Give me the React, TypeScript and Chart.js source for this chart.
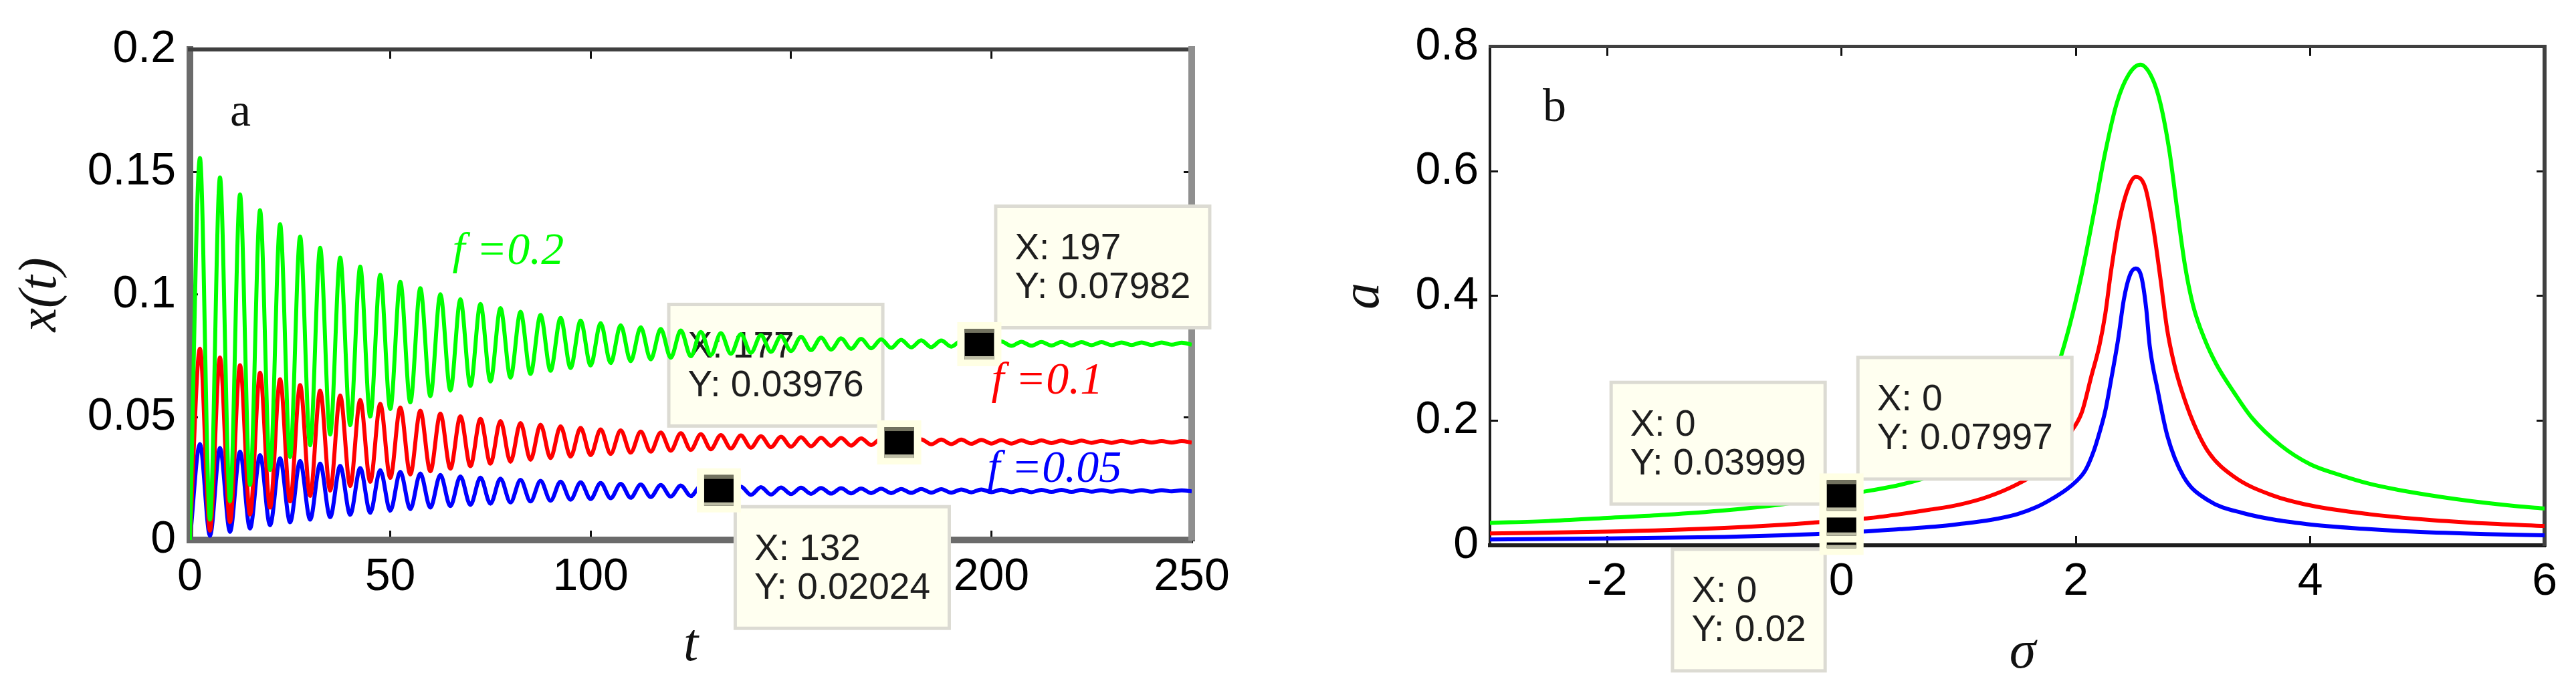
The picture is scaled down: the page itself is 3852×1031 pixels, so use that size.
import { useEffect, useRef } from "react";
import { Chart, registerables } from "chart.js";

Chart.register(...registerables);

// ---------------- Panel a: x(t) ----------------
const T_A = [0,2.5,5,7.5,10,12.5,15,17.5,20,22.5,25,27.5,30,32.5,35,37.5,40,42.5,45,47.5,50,52.5,55,57.5,60,62.5,65,67.5,70,72.5,75,77.5,80,82.5,85,87.5,90,92.5,95,97.5,100,102.5,105,107.5,110,112.5,115,117.5,120,122.5,125,127.5,130,132.5,135,137.5,140,142.5,145,147.5,150,152.5,155,157.5,160,162.5,165,167.5,170,172.5,175,177.5,180,182.5,185,187.5,190,192.5,195,197.5,200,202.5,205,207.5,210,212.5,215,217.5,220,222.5,225,227.5,230,232.5,235,237.5,240,242.5,245,247.5,250];

const X_F02 = [
  0.0000,0.1557,0.0083,0.1478,0.0158,0.1408,0.0225,0.1344,0.0285,0.1288,
  0.0338,0.1237,0.0386,0.1191,0.0430,0.1151,0.0468,0.1114,0.0503,0.1081,
  0.0534,0.1052,0.0561,0.1026,0.0586,0.1002,0.0609,0.0981,0.0628,0.0962,
  0.0646,0.0945,0.0662,0.0930,0.0677,0.0917,0.0690,0.0905,0.0701,0.0894,
  0.0711,0.0884,0.0721,0.0875,0.0729,0.0867,0.0736,0.0860,0.0743,0.0854,
  0.0749,0.0848,0.0754,0.0843,0.0759,0.0839,0.0763,0.0835,0.0767,0.0831,
  0.0770,0.0828,0.0774,0.0825,0.0776,0.0822,0.0779,0.0820,0.0781,0.0818,
  0.0783,0.0816,0.0785,0.0814,0.0786,0.0813,0.0788,0.0812,0.0789,0.0810,
  0.0790,0.0809,0.0791,0.0808,0.0792,0.0807,0.0793,0.0807,0.0793,0.0806,
  0.0794,0.0806,0.0794,0.0805,0.0795,0.0805,0.0795,0.0805,0.0796,0.0804,
  0.0796
];
const X_F01 = [
  0.0000,0.0780,0.0038,0.0744,0.0073,0.0712,0.0104,0.0682,0.0132,0.0655,
  0.0157,0.0631,0.0180,0.0609,0.0201,0.0589,0.0220,0.0571,0.0237,0.0555,
  0.0253,0.0540,0.0267,0.0527,0.0280,0.0515,0.0291,0.0504,0.0301,0.0494,
  0.0311,0.0485,0.0319,0.0477,0.0327,0.0470,0.0334,0.0463,0.0340,0.0457,
  0.0346,0.0451,0.0351,0.0447,0.0356,0.0442,0.0360,0.0438,0.0364,0.0435,
  0.0367,0.0431,0.0370,0.0428,0.0373,0.0426,0.0376,0.0423,0.0378,0.0421,
  0.0380,0.0419,0.0382,0.0417,0.0384,0.0416,0.0385,0.0414,0.0387,0.0413,
  0.0388,0.0411,0.0389,0.0410,0.0390,0.0409,0.0391,0.0409,0.0392,0.0408,
  0.0393,0.0407,0.0393,0.0406,0.0394,0.0406,0.0395,0.0405,0.0395,0.0405,
  0.0396,0.0404,0.0396,0.0404,0.0396,0.0404,0.0397,0.0403,0.0397,0.0403,
  0.0397
];
const X_F005 = [
  0.0000,0.0391,0.0017,0.0375,0.0033,0.0360,0.0047,0.0346,0.0060,0.0333,
  0.0072,0.0322,0.0083,0.0311,0.0093,0.0302,0.0103,0.0293,0.0111,0.0285,
  0.0119,0.0278,0.0126,0.0271,0.0132,0.0265,0.0138,0.0259,0.0143,0.0254,
  0.0148,0.0250,0.0153,0.0245,0.0157,0.0241,0.0160,0.0238,0.0164,0.0235,
  0.0167,0.0232,0.0170,0.0229,0.0172,0.0226,0.0175,0.0224,0.0177,0.0222,
  0.0179,0.0220,0.0181,0.0218,0.0182,0.0217,0.0184,0.0215,0.0185,0.0214,
  0.0187,0.0213,0.0188,0.0212,0.0189,0.0211,0.0190,0.0210,0.0191,0.0209,
  0.0191,0.0208,0.0192,0.0208,0.0193,0.0207,0.0193,0.0206,0.0194,0.0206,
  0.0195,0.0205,0.0195,0.0205,0.0195,0.0204,0.0196,0.0204,0.0196,0.0204,
  0.0197,0.0203,0.0197,0.0203,0.0197,0.0203,0.0197,0.0203,0.0198,0.0202,
  0.0198
];

const X_TICKS_A = [0, 50, 100, 150, 200, 250];
const Y_TICKS_A = [0, 0.05, 0.1, 0.15, 0.2];

const TIP_A_X = [132, 177, 197];
const TIP_A_Y = [0.02024, 0.03976, 0.07982];

const LABELS_A = ["f =0.2", "f =0.1", "f =0.05"];
const LABEL_A_T = [65.5, 200, 199];
const LABEL_A_Y = [0.1124, 0.0597, 0.0238];

// ---------------- Panel b: a(sigma) ----------------
const SIGMA_G = [-3,-2.5,-2,-1.5,-1,-0.5,0,0.25,0.5,0.75,1,1.25,1.5,1.65,1.75,1.85,1.95,2.05,2.15,2.25,2.35,2.45,2.55,2.65,2.72,2.8,2.86,2.93,3,3.1,3.2,3.35,3.5,3.75,4,4.25,4.5,4.75,5,5.25,5.5,5.75,6];
const A_G = [0.036,0.039,0.044,0.049,0.056,0.066,0.080,0.088,0.097,0.110,0.126,0.148,0.180,0.210,0.240,0.290,0.355,0.435,0.530,0.630,0.710,0.755,0.771,0.750,0.710,0.630,0.545,0.450,0.385,0.330,0.290,0.245,0.205,0.160,0.130,0.113,0.099,0.089,0.081,0.074,0.068,0.063,0.059];

const SIGMA_R = [-3,-2,-1,-0.5,0,0.25,0.5,0.75,1,1.25,1.5,1.65,1.8,1.95,2.05,2.13,2.2,2.25,2.3,2.37,2.45,2.51,2.59,2.66,2.72,2.78,2.84,2.9,3,3.13,3.35,3.68,4,4.5,5,5.5,6];
const A_R = [0.019,0.022,0.028,0.033,0.040,0.044,0.050,0.057,0.065,0.078,0.098,0.115,0.145,0.180,0.213,0.270,0.320,0.370,0.440,0.520,0.575,0.591,0.575,0.510,0.430,0.345,0.290,0.250,0.198,0.150,0.110,0.080,0.064,0.050,0.041,0.035,0.031];

const SIGMA_B = [-3,-2,-1,-0.5,0,0.5,0.8,1,1.28,1.5,1.66,1.8,1.95,2.08,2.15,2.2,2.25,2.3,2.36,2.41,2.46,2.51,2.56,2.6,2.63,2.7,2.78,2.92,3.13,3.42,3.97,4.5,4.88,5.5,6];
const A_B = [0.0095,0.011,0.0135,0.016,0.020,0.026,0.030,0.034,0.041,0.050,0.061,0.075,0.094,0.120,0.150,0.180,0.215,0.265,0.330,0.395,0.433,0.444,0.430,0.380,0.320,0.247,0.176,0.110,0.072,0.052,0.034,0.026,0.022,0.018,0.016];

const X_TICKS_B = [-2, 0, 2, 4, 6];
const Y_TICKS_B = [0, 0.2, 0.4, 0.6, 0.8];

const TIP_B_X = [0, 0, 0];
const TIP_B_Y = [0.02, 0.03999, 0.07997];

// ---------------- styles ----------------
const GREEN = "#00ff00";
const RED = "#ff0000";
const BLUE = "#0000ff";
const SANS = '"Liberation Sans", Arial, sans-serif';
const SERIF = '"Liberation Serif", "Times New Roman", serif';
const TICK_FONT = { family: SANS, size: 68 };
const TIP_FONT = `55px ${SANS}`;
const TITLE_FONT = `italic 80px ${SERIF}`;
const NOTE_FONT = `italic 68px ${SERIF}`;
const PANEL_FONT = `70px ${SERIF}`;
const TIP_SIDES_A = ["se", "nw", "ne"];
const TIP_SIDES_B = ["sw", "nw", "ne"];
const LABEL_COLORS_A = [GREEN, RED, BLUE];

function drawTipBox(ctx: CanvasRenderingContext2D, px: number, py: number, lines: string[], side: string) {
  ctx.save();
  ctx.font = TIP_FONT;
  const w = Math.max(...lines.map((l) => ctx.measureText(l).width)) + 62;
  const h = 187;
  const g = 22;
  const left = side.includes("e") ? px + g : px - g - w;
  const top = side.startsWith("n") ? py - g - h : py + g;
  ctx.fillStyle = "#dcdbd3";
  ctx.fillRect(left, top, w, h);
  ctx.fillStyle = "#fffff0";
  ctx.fillRect(left + 5, top + 5, w - 10, h - 10);
  ctx.fillStyle = "#1e1e1e";
  ctx.textAlign = "left";
  ctx.textBaseline = "alphabetic";
  ctx.fillText(lines[0], left + 31, top + 82);
  ctx.fillText(lines[1], left + 31, top + 140);
  ctx.restore();
}

function drawMarker(ctx: CanvasRenderingContext2D, px: number, py: number) {
  ctx.save();
  ctx.fillStyle = "#ffffe4";
  ctx.fillRect(px - 33, py - 33, 66, 66);
  ctx.fillStyle = "#000000";
  ctx.fillRect(px - 22, py - 23, 44, 46);
  ctx.fillStyle = "#72725f";
  ctx.fillRect(px - 22, py - 23, 44, 6);
  ctx.fillStyle = "#bdbda5";
  ctx.fillRect(px - 22, py + 18, 44, 5);
  ctx.restore();
}

function drawText(ctx: CanvasRenderingContext2D, text: string, x: number, y: number, font: string, color: string, align: CanvasTextAlign, baseline: CanvasTextBaseline, rot = 0) {
  ctx.save();
  ctx.font = font;
  ctx.fillStyle = color;
  ctx.textAlign = align;
  ctx.textBaseline = baseline;
  ctx.translate(x, y);
  if (rot) ctx.rotate(rot);
  ctx.fillText(text, 0, 0);
  ctx.restore();
}

const overlayA = {
  id: "overlayA",
  beforeDatasetsDraw(chart: any) {
    const ctx = chart.ctx;
    const xs = chart.scales.x;
    const ys = chart.scales.y;
    TIP_A_X.forEach((tx, i) => {
      drawTipBox(ctx, xs.getPixelForValue(tx), ys.getPixelForValue(TIP_A_Y[i]), [`X: ${tx}`, `Y: ${TIP_A_Y[i]}`], TIP_SIDES_A[i]);
    });
  },
  afterDatasetsDraw(chart: any) {
    const ctx = chart.ctx;
    const xs = chart.scales.x;
    const ys = chart.scales.y;
    const area = chart.chartArea;
    TIP_A_X.forEach((tx, i) => drawMarker(ctx, xs.getPixelForValue(tx), ys.getPixelForValue(TIP_A_Y[i])));
    LABELS_A.forEach((lab, i) => {
      drawText(ctx, lab, xs.getPixelForValue(LABEL_A_T[i]), ys.getPixelForValue(LABEL_A_Y[i]), NOTE_FONT, LABEL_COLORS_A[i], "left", "alphabetic");
    });
    drawText(ctx, "a", area.left + 60, area.top + 114, PANEL_FONT, "#111", "left", "alphabetic");
    drawText(ctx, "t", (area.left + area.right) / 2, area.bottom + 159, TITLE_FONT, "#111", "center", "middle");
    drawText(ctx, "x(t)", area.left - 222, (area.top + area.bottom) / 2, TITLE_FONT, "#111", "center", "middle", -Math.PI / 2);
  },
};

const overlayB = {
  id: "overlayB",
  afterDatasetsDraw(chart: any) {
    const ctx = chart.ctx;
    const xs = chart.scales.x;
    const ys = chart.scales.y;
    const area = chart.chartArea;
    TIP_B_X.forEach((tx, i) => {
      drawTipBox(ctx, xs.getPixelForValue(tx), ys.getPixelForValue(TIP_B_Y[i]), [`X: ${tx}`, `Y: ${TIP_B_Y[i]}`], TIP_SIDES_B[i]);
    });
    TIP_B_X.forEach((tx, i) => drawMarker(ctx, xs.getPixelForValue(tx), ys.getPixelForValue(TIP_B_Y[i])));
    drawText(ctx, "b", area.left + 79, area.top + 111, PANEL_FONT, "#111", "left", "alphabetic");
    drawText(ctx, "σ", (area.left + area.right) / 2 + 8, area.bottom + 162, TITLE_FONT, "#111", "center", "middle");
    drawText(ctx, "a", area.left - 188, (area.top + area.bottom) / 2, TITLE_FONT, "#111", "center", "middle", -Math.PI / 2);
  },
};

function lineDataset(xs: number[], ys: number[], color: string, width: number) {
  return {
    data: xs.map((x, i) => ({ x, y: ys[i] })),
    borderColor: color,
    backgroundColor: color,
    borderWidth: width,
    pointRadius: 0,
    fill: false,
    cubicInterpolationMode: "monotone" as const,
  };
}

function makeScales(opts: {
  xmin: number; xmax: number; ymin: number; ymax: number;
  xticks: number[]; yticks: number[];
  leftW: number; bottomH: number;
  leftBorder: [string, number]; bottomBorder: [string, number];
  topBorder: [string, number]; rightBorder: [string, number];
  xPad: number; yPad: number;
}) {
  const tickFmt = (v: any) => String(v);
  return {
    x: {
      type: "linear", position: "bottom", min: opts.xmin, max: opts.xmax,
      afterBuildTicks: (s: any) => { s.ticks = opts.xticks.map((v) => ({ value: v })); },
      afterFit: (s: any) => { s.height = opts.bottomH; },
      ticks: { font: TICK_FONT, color: "#000", padding: opts.xPad, maxRotation: 0, autoSkip: false, callback: tickFmt },
      grid: { drawOnChartArea: false, drawTicks: true, tickLength: -14, tickColor: "#111", tickWidth: 3 },
      border: { display: true, color: opts.bottomBorder[0], width: opts.bottomBorder[1] },
    },
    y: {
      type: "linear", position: "left", min: opts.ymin, max: opts.ymax,
      afterBuildTicks: (s: any) => { s.ticks = opts.yticks.map((v) => ({ value: v })); },
      afterFit: (s: any) => { s.width = opts.leftW; },
      ticks: { font: TICK_FONT, color: "#000", padding: opts.yPad, autoSkip: false, callback: tickFmt },
      grid: { drawOnChartArea: false, drawTicks: true, tickLength: -12, tickColor: "#111", tickWidth: 3 },
      border: { display: true, color: opts.leftBorder[0], width: opts.leftBorder[1] },
    },
    x2: {
      type: "linear", position: "top", min: opts.xmin, max: opts.xmax,
      afterBuildTicks: (s: any) => { s.ticks = opts.xticks.map((v) => ({ value: v })); },
      afterFit: (s: any) => { s.height = 0; },
      ticks: { display: false },
      grid: { drawOnChartArea: false, drawTicks: true, tickLength: -14, tickColor: "#111", tickWidth: 3 },
      border: { display: true, color: opts.topBorder[0], width: opts.topBorder[1] },
    },
    y2: {
      type: "linear", position: "right", min: opts.ymin, max: opts.ymax,
      afterBuildTicks: (s: any) => { s.ticks = opts.yticks.map((v) => ({ value: v })); },
      afterFit: (s: any) => { s.width = 0; },
      ticks: { display: false },
      grid: { drawOnChartArea: false, drawTicks: true, tickLength: -12, tickColor: "#111", tickWidth: 3 },
      border: { display: true, color: opts.rightBorder[0], width: opts.rightBorder[1] },
    },
  };
}

export default function App() {
  const refA = useRef<HTMLCanvasElement>(null);
  const refB = useRef<HTMLCanvasElement>(null);

  useEffect(() => {
    const chartA = new Chart(refA.current as HTMLCanvasElement, {
      type: "line",
      data: {
        datasets: [
          lineDataset(T_A, X_F02, GREEN, 6),
          lineDataset(T_A, X_F01, RED, 6),
          lineDataset(T_A, X_F005, BLUE, 6),
        ],
      } as any,
      options: {
        animation: false,
        responsive: false,
        devicePixelRatio: 1,
        events: [],
        layout: { padding: { left: 0, top: 68, right: 144, bottom: 0 } },
        plugins: { legend: { display: false }, tooltip: { enabled: false } },
        scales: makeScales({
          xmin: 0, xmax: 250, ymin: 0, ymax: 0.2,
          xticks: X_TICKS_A, yticks: Y_TICKS_A,
          leftW: 284, bottomH: 223,
          leftBorder: ["#6b6b6b", 10], bottomBorder: ["#6b6b6b", 10],
          topBorder: ["#404040", 6], rightBorder: ["#8f8f8f", 10],
          xPad: 29, yPad: 33,
        }) as any,
      },
      plugins: [overlayA],
    });

    const chartB = new Chart(refB.current as HTMLCanvasElement, {
      type: "line",
      data: {
        datasets: [
          lineDataset(SIGMA_G, A_G, GREEN, 6),
          lineDataset(SIGMA_R, A_R, RED, 6),
          lineDataset(SIGMA_B, A_B, BLUE, 6),
        ],
      } as any,
      options: {
        animation: false,
        responsive: false,
        devicePixelRatio: 1,
        events: [],
        layout: { padding: { left: 0, top: 61, right: 38, bottom: 0 } },
        plugins: { legend: { display: false }, tooltip: { enabled: false } },
        scales: makeScales({
          xmin: -3, xmax: 6, ymin: 0, ymax: 0.8,
          xticks: X_TICKS_B, yticks: Y_TICKS_B,
          leftW: 302, bottomH: 215,
          leftBorder: ["#1e1e1e", 4], bottomBorder: ["#1e1e1e", 6],
          topBorder: ["#404040", 5], rightBorder: ["#404040", 6],
          xPad: 28, yPad: 29,
        }) as any,
      },
      plugins: [overlayB],
    });

    return () => {
      chartA.destroy();
      chartB.destroy();
    };
  }, []);

  return (
    <div style={{ position: "absolute", left: 0, top: 0, width: 3852, height: 1031, background: "#ffffff", overflow: "hidden" }}>
      <canvas ref={refA} width={1926} height={1031} style={{ position: "absolute", left: 0, top: 0, width: 1926, height: 1031 }} />
      <canvas ref={refB} width={1926} height={1031} style={{ position: "absolute", left: 1926, top: 0, width: 1926, height: 1031 }} />
    </div>
  );
}
